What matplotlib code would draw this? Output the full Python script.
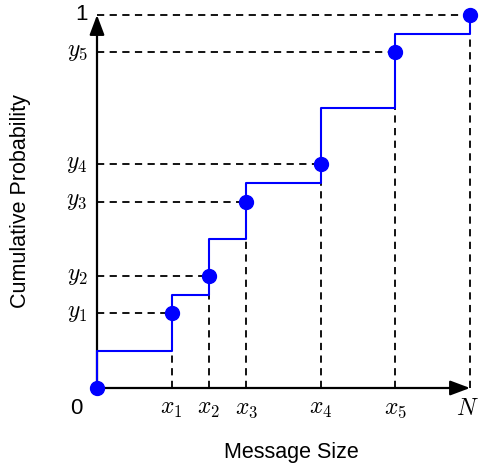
import matplotlib.pyplot as plt

plt.rcParams['mathtext.fontset'] = 'cm'
plt.rcParams['font.family'] = ['Liberation Sans', 'DejaVu Sans']

# sample points of the empirical CDF (grid units, N = 10, probability 1 = 10)
xs = [0, 2, 3, 4, 6, 8, 10]
ys = [0, 2, 3, 5, 6, 9, 10]
# plateau heights of the step curve between samples
levels = [1, 2.5, 4, 5.5, 7.5, 9.5]
x_labels = ['', r'$x_1$', r'$x_2$', r'$x_3$', r'$x_4$', r'$x_5$', r'$N$']
y_labels = ['', r'$y_1$', r'$y_2$', r'$y_3$', r'$y_4$', r'$y_5$', '1']

fig = plt.figure(figsize=(4.79, 4.68), dpi=100)
ax = fig.add_axes([0, 0, 1, 1])
u = 37.3
ax.set_xlim(-97 / u, (479 - 97) / u)
ax.set_ylim(-(468 - 388) / u, 388 / u)
ax.axis('off')

# guide lines from each sample to both axes
for x, y in zip(xs[1:], ys[1:]):
    ax.plot([0, x], [y, y], color='black', lw=1.3, ls=(0, (4, 3)), zorder=1)
    ax.plot([x, x], [0, y], color='black', lw=1.3, ls=(0, (4, 3)), zorder=1)

# axes with arrow heads
arrow = dict(arrowstyle='-|>,head_length=1.2,head_width=0.45', color='black', lw=1.6,
             shrinkA=0, shrinkB=0)
ax.annotate('', xy=(10, 0), xytext=(0, 0), arrowprops=arrow, zorder=2)
ax.annotate('', xy=(0, 10), xytext=(0, 0), arrowprops=arrow, zorder=2)

# step curve
px, py = [xs[0]], [ys[0]]
for i, lev in enumerate(levels):
    px += [xs[i], xs[i + 1]]
    py += [lev, lev]
px.append(xs[-1])
py.append(ys[-1])
ax.plot(px, py, color='#0000ff', lw=1.5, zorder=3)
ax.plot(xs, ys, 'o', color='#0000ff', ms=10, zorder=4)

# tick labels
for x, lab in zip(xs[1:-1], x_labels[1:-1]):
    ax.text(x, -0.55, lab, ha='center', va='center', fontsize=17)
ax.text(xs[-1] - 0.08, -0.55, x_labels[-1], ha='center', va='center', fontsize=17)
for y, lab in zip(ys[1:], y_labels[1:]):
    ax.text(-0.25, y, lab, ha='right', va='center', fontsize=17 if lab != '1' else 16)
ax.text(-0.55, -0.55, '0', ha='center', va='center', fontsize=16)

ax.text(-2.06, 5.0, 'Cumulative Probability', rotation=90, ha='center', va='center', fontsize=15.5)
ax.text(5.2, -1.72, 'Message Size', ha='center', va='center', fontsize=15.5)

fig.savefig('out.png', dpi=100)
